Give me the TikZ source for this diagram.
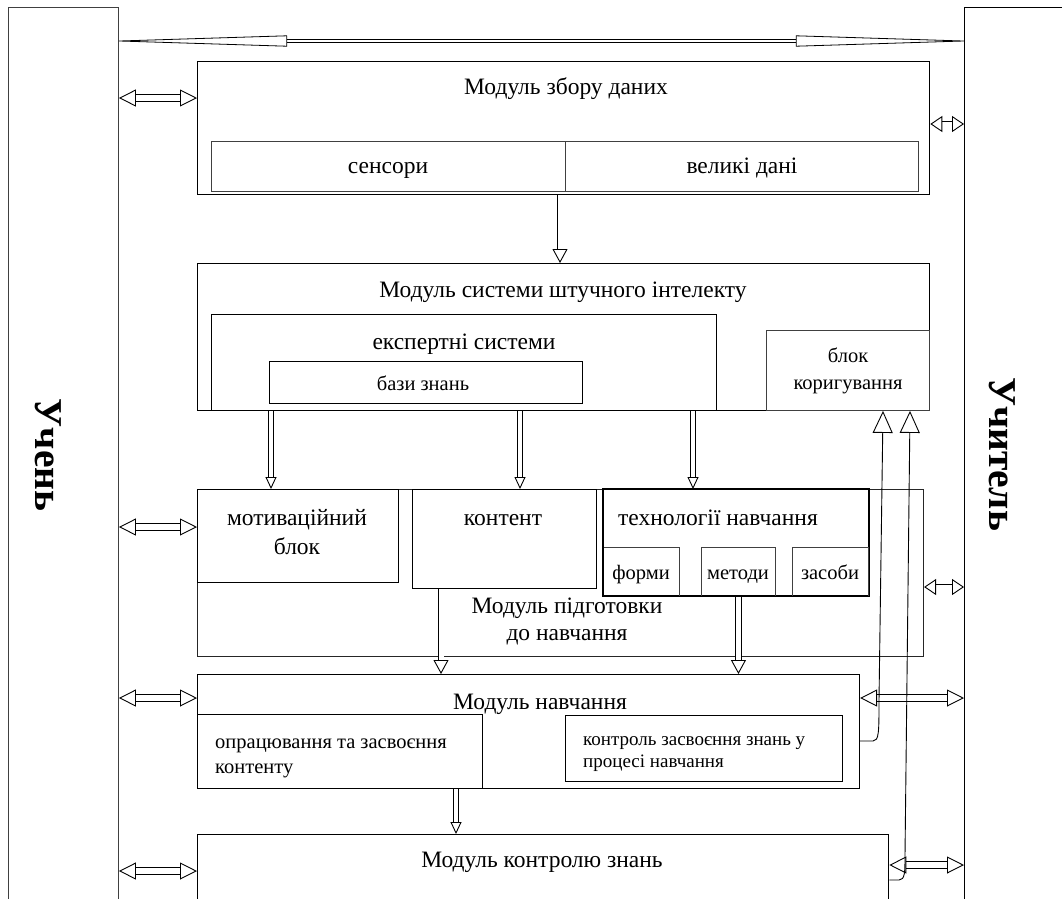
\documentclass[tikz,border=0pt]{standalone}
\usepackage{fontspec}
\setmainfont{Liberation Serif}
\usetikzlibrary{arrows.meta,calc}
\begin{document}
\begin{tikzpicture}[x=1pt,y=-1pt,
  box/.style={draw, line width=1.3pt, inner sep=0pt, anchor=north west},
  lbox/.style={draw=black!75, line width=0.9pt, inner sep=0pt, anchor=north west},
  ttl/.style={font=\fontsize{23.5}{27}\selectfont, inner sep=0pt, text height=0.7em, text depth=0.2em, yshift=-5pt},
  sml/.style={font=\fontsize{20.5}{24}\selectfont, inner sep=0pt, text height=0.7em, text depth=0.2em, yshift=-5pt},
  tiny/.style={font=\fontsize{19}{22}\selectfont, inner sep=0pt, anchor=west, text height=0.7em, text depth=0.2em, yshift=-5pt},
  big/.style={font=\fontsize{39.5}{44}\selectfont\bfseries, rotate=-90, inner sep=0pt},
  harrow/.style={double, double distance=6pt, line width=0.8pt,
    {Triangle[open, length=17pt, width=17pt, line width=0.9pt]}-{Triangle[open, length=17pt, width=17pt, line width=0.9pt]}},
  sharrow/.style={double, double distance=5pt, line width=0.8pt,
    {Triangle[open, length=12pt, width=16pt, line width=0.9pt]}-{Triangle[open, length=12pt, width=16pt, line width=0.9pt]}},
  varrow/.style={double, double distance=5pt, line width=0.8pt,
    -{Triangle[open, length=14pt, width=15pt, line width=0.9pt]}},
  tarrow/.style={double, double distance=3.5pt, line width=0.8pt,
    -{Triangle[open, length=12pt, width=11pt, line width=0.9pt]}},
  fback/.style={line width=0.9pt, -{Triangle[open, length=22pt, width=20pt, line width=0.9pt]}},
]
\clip (0,0) rectangle (1062,898);
\fill[white] (0,0) rectangle (1062,898);

% side columns
\node[lbox, minimum width=110pt, minimum height=950pt] (stu) at (8,7) {};
\node[box, minimum width=120pt, minimum height=950pt] (tea) at (964,7) {};
\node[big] at (48,455) {Учень};
\node[big] at (1002,454) {Учитель};

% top tapered double arrow
\draw[double, double distance=2.5pt, line width=0.8pt,
  {Triangle[open, round, length=181pt, width=11pt, line width=0.8pt]}-{Triangle[open, round, length=181pt, width=11pt, line width=0.8pt]}]
  ([yshift=-34pt]stu.north east) -- ([yshift=-34pt]tea.north west);

% data module
\node[box, minimum width=732pt, minimum height=133pt] (data) at (197,61) {};
\node[ttl] at (566,87) {Модуль збору даних};
\node[lbox, minimum width=354pt, minimum height=50pt] (sens) at (211,141) {};
\node[lbox, minimum width=353pt, minimum height=50pt] (big) at (565,141) {};
\node[ttl] at (388,166) {сенсори};
\node[ttl] at (742,166) {великі дані};

% AI module
\node[box, minimum width=732pt, minimum height=147pt] (ai) at (197,263) {};
\node[ttl] at (563,290) {Модуль системи штучного інтелекту};
\node[box, line width=1.1pt, minimum width=505pt, minimum height=96pt] (exp) at (211,314) {};
\node[ttl] at (464,342) {експертні системи};
\node[box, line width=1.1pt, minimum width=313pt, minimum height=42pt] (kb) at (269,361) {};
\node[sml] at (423,383) {бази знань};
\node[lbox, minimum width=163pt, minimum height=80pt] (corr) at (766,330) {};
\node[sml] at (848,355) {блок};
\node[sml] at (848,382) {коригування};

\draw[varrow] ([xshift=363pt]data.south west) -- ([xshift=363pt]ai.north west);

% preparation module
\node[lbox, line width=1.1pt, draw=black!85, minimum width=726pt, minimum height=167pt] (prep) at (197,489) {};
\node[box, minimum width=201pt, minimum height=93pt] (mot) at (197,489) {};
\node[box, minimum width=184pt, minimum height=99pt] (cont) at (412,489) {};
\node[box, minimum width=265pt, minimum height=106pt] (tech) at (603,489) {};
\node[lbox, minimum width=76pt, minimum height=49pt] (form) at (603,547) {};
\node[lbox, minimum width=74pt, minimum height=49pt] (meth) at (701,547) {};
\node[lbox, minimum width=76pt, minimum height=49pt] (tool) at (792,547) {};
\draw[line width=1.3pt] (tech.north west) rectangle (tech.south east);
\node[ttl] at (297,518) {мотиваційний};
\node[ttl] at (297,547) {блок};
\node[ttl] at (503,518) {контент};
\node[ttl] at (718,518) {технології навчання};
\node[sml] at (641,572) {форми};
\node[sml] at (738,572) {методи};
\node[sml] at (830,572) {засоби};
\node[ttl] at (567,606) {Модуль підготовки};
\node[ttl] at (567,633) {до навчання};

\draw[tarrow] ([xshift=74pt]ai.south west) -- ([xshift=74pt]mot.north west);
\draw[tarrow] ([xshift=323pt]ai.south west) -- ([xshift=108pt]cont.north west);
\draw[tarrow] ([xshift=496pt]ai.south west) -- ([xshift=90pt]tech.north west);

% learning module
\node[box, line width=1.1pt, minimum width=662pt, minimum height=114pt] (learn) at (197,674) {};
\node[ttl] at (540,702) {Модуль навчання};
\node[box, line width=1.1pt, minimum width=285pt, minimum height=74pt] (proc) at (197,714) {};
\node[box, line width=1.1pt, minimum width=277pt, minimum height=66pt] (ctrl) at (565,715) {};
\node[sml, anchor=west] at (215,741) {опрацювання та засвоєння};
\node[sml, anchor=west] at (215,766) {контенту};
\node[tiny] at (583,738) {контроль засвоєння знань у};
\node[tiny] at (583,760) {процесі навчання};

\draw[varrow] ([xshift=29pt]cont.south west) -- ([xshift=29pt]cont.south west |- learn.north);
\draw[varrow] (meth.south) -- (meth.south |- learn.north);

% control module
\node[box, minimum width=691pt, minimum height=120pt] (exam) at (197,834) {};
\node[ttl] at (542,860) {Модуль контролю знань};
\draw[tarrow] ([xshift=259pt]learn.south west) -- ([xshift=259pt]exam.north west);

% side double arrows
\draw[harrow] ([yshift=-91pt]stu.north east) -- ([yshift=-37pt]data.north west);
\draw[harrow] ([yshift=-520pt]stu.north east) -- ([yshift=-38pt]prep.north west);
\draw[harrow] ([yshift=-691pt]stu.north east) -- ([yshift=-24pt]learn.north west);
\draw[harrow] ([yshift=-864pt]stu.north east) -- ([yshift=-37pt]exam.north west);

\draw[sharrow] ([yshift=-63pt]data.north east) -- ([yshift=-117pt]tea.north west);
\draw[sharrow] ([yshift=-98pt]prep.north east) -- ([yshift=-580pt]tea.north west);
\draw[harrow] ([yshift=-24pt]learn.north east) -- ([yshift=-691pt]tea.north west);
\draw[harrow] ([yshift=-31pt]exam.north east) -- ([yshift=-858pt]tea.north west);

% feedback lines to correction block
\draw[fback] ([yshift=-67pt]learn.north east) -- (873,741)
  .. controls (879,741) and (879,732) .. (879,700) -- ([xshift=117pt]corr.south west);
\draw[fback] ([yshift=-46pt]exam.north east) -- (899,880)
  .. controls (905,880) and (905,872) .. (905,855) -- ([xshift=144pt]corr.south west);
\end{tikzpicture}
\end{document}
